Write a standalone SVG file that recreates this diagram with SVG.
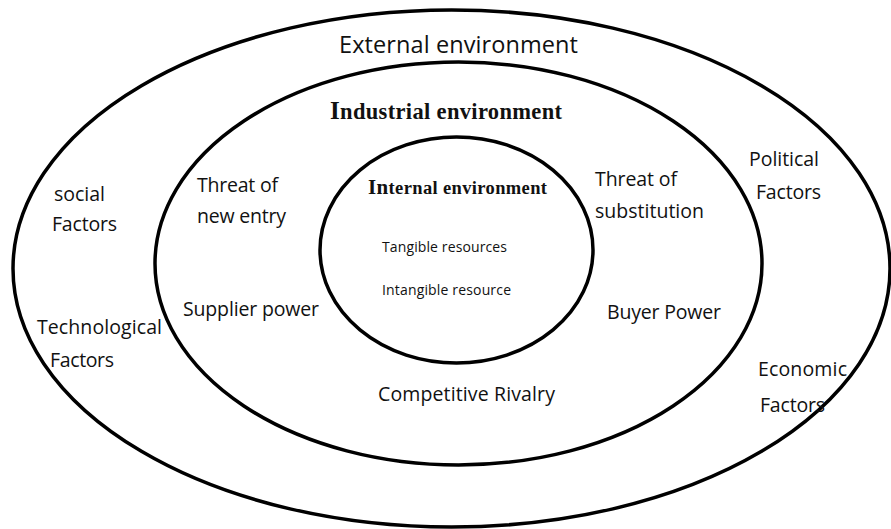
<svg xmlns="http://www.w3.org/2000/svg" width="891" height="529" viewBox="0 0 891 529">
<style>
.ring{fill:none;stroke:#000;stroke-width:3.5}
.lbl{font-family:"Open Sans","Noto Sans","Liberation Sans",sans-serif;fill:#111;font-size:19.5px}
.big{font-size:23.5px}
.sm{font-size:14px}
.ser{font-family:"Liberation Serif","Times New Roman",serif;font-weight:bold;fill:#111}
</style>
<rect width="891" height="529" fill="#fff"/>
<g id="external">
<ellipse class="ring" cx="451.5" cy="268.5" rx="438.5" ry="258.5"/>
<text class="lbl big" x="339" y="53" textLength="239">External environment</text>
<text class="lbl" x="54" y="201" textLength="51">social</text>
<text class="lbl" x="52" y="231" textLength="65">Factors</text>
<text class="lbl" x="37" y="334" textLength="125">Technological</text>
<text class="lbl" x="50" y="367" textLength="64">Factors</text>
<text class="lbl" x="749" y="166" textLength="70">Political</text>
<text class="lbl" x="756" y="199" textLength="65">Factors</text>
<text class="lbl" x="758" y="376" textLength="89">Economic</text>
<text class="lbl" x="760" y="412" textLength="65">Factors</text>
</g>
<g id="industrial">
<ellipse class="ring" cx="458.5" cy="263.5" rx="303.5" ry="201.5"/>
<text class="ser" x="330" y="119" font-size="22.5" textLength="232"><tspan font-size="25">I</tspan>ndustrial environment</text>
<text class="lbl" x="197" y="192" textLength="81">Threat of</text>
<text class="lbl" x="197" y="223" textLength="89">new entry</text>
<text class="lbl" x="183" y="316" textLength="136">Supplier power</text>
<text class="lbl" x="595" y="186" textLength="82">Threat of</text>
<text class="lbl" x="595" y="218" textLength="109">substitution</text>
<text class="lbl" x="607" y="319" textLength="114">Buyer Power</text>
<text class="lbl" x="378" y="401" textLength="177">Competitive Rivalry</text>
</g>
<g id="internal">
<ellipse class="ring" cx="456.5" cy="250" rx="136.5" ry="113"/>
<text class="ser" x="368" y="194" font-size="18.5" textLength="179"><tspan font-size="21">In</tspan>ternal environment</text>
<text class="lbl sm" x="382" y="252" textLength="125">Tangible resources</text>
<text class="lbl sm" x="382" y="295" textLength="129">Intangible resource</text>
</g>
</svg>
